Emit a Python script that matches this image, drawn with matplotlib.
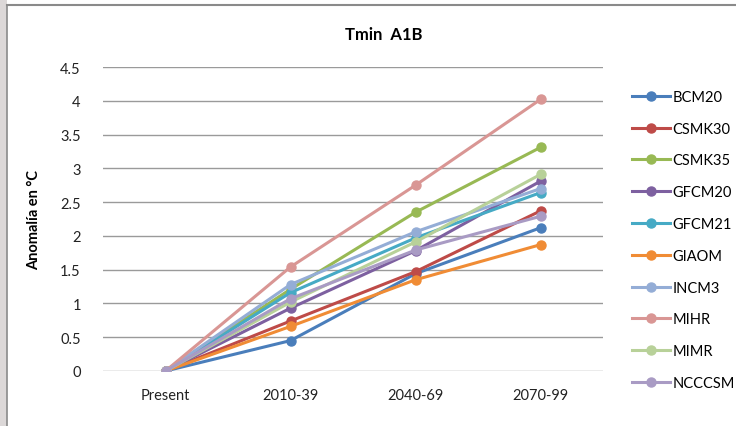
import matplotlib.pyplot as plt
from matplotlib.patches import Rectangle
from matplotlib.lines import Line2D

plt.rcParams['font.family'] = ['Lato', 'DejaVu Sans']

periods = ['Present', '2010-39', '2040-69', '2070-99']
models = ['BCM20', 'CSMK30', 'CSMK35', 'GFCM20', 'GFCM21',
          'GIAOM', 'INCM3', 'MIHR', 'MIMR', 'NCCCSM']
anom = {
    'BCM20':  [0, 0.45, 1.44, 2.12],
    'CSMK30': [0, 0.74, 1.47, 2.37],
    'CSMK35': [0, 1.21, 2.35, 3.31],
    'GFCM20': [0, 0.93, 1.78, 2.81],
    'GFCM21': [0, 1.16, 1.97, 2.64],
    'GIAOM':  [0, 0.66, 1.35, 1.87],
    'INCM3':  [0, 1.28, 2.06, 2.70],
    'MIHR':   [0, 1.54, 2.75, 4.02],
    'MIMR':   [0, 1.02, 1.91, 2.91],
    'NCCCSM': [0, 1.07, 1.79, 2.29],
}
colors = ['#4A7EBB', '#BE4B48', '#98B954', '#7D60A0', '#46AAC5',
          '#F08C35', '#94ADD6', '#D99694', '#B8D199', '#A99BC4']

fig = plt.figure(figsize=(7.36, 4.27), dpi=100)
# grey strip and frame around the chart
fig.patches.append(Rectangle((0, 0), 7 / 736, 1, transform=fig.transFigure,
                             facecolor='#dcd8d8', edgecolor='none', zorder=0))
fig.add_artist(Line2D([7 / 736, 7 / 736], [0, 1 - 6 / 427], color='#8a8a8a', lw=1.2))
fig.add_artist(Line2D([7 / 736, 1], [1 - 6 / 427, 1 - 6 / 427], color='#8a8a8a', lw=1.5))

ax = fig.add_axes([103 / 736, 1 - 372 / 427, 500 / 736, 304 / 427])
x = range(len(periods))
for name, c in zip(models, colors):
    ax.plot(x, anom[name], color=c, lw=2.2, marker='o', ms=6.5, label=name)

ax.set_xlim(-0.5, 3.5)
ax.set_ylim(0, 4.5)
ax.set_yticks([0, 0.5, 1, 1.5, 2, 2.5, 3, 3.5, 4, 4.5])
ax.set_yticklabels(['0', '0.5', '1', '1.5', '2', '2.5', '3', '3.5', '4', '4.5'])
ax.set_xticks(list(x))
ax.set_xticklabels(periods)
ax.yaxis.grid(True, color='#9a9a9a', lw=1)
ax.set_axisbelow(True)
for s in ax.spines.values():
    s.set_visible(False)
ax.tick_params(length=0, labelsize=10.5, colors='#222222')
ax.tick_params(axis='y', pad=16)
ax.tick_params(axis='x', pad=12)

ax.set_ylabel('Anomalía en °C', fontsize=10.5, fontweight='bold', labelpad=14)
fig.text(384 / 736, 1 - 35 / 427, 'Tmin  A1B', ha='center', va='center',
         fontsize=12, fontweight='bold')

ax.legend(loc='upper left', bbox_to_anchor=(1.046, 0.944), frameon=False,
          fontsize=10.5, handlelength=2.6, handletextpad=0.2,
          labelspacing=1.22, borderaxespad=0)

fig.savefig('out.png', dpi=100)
